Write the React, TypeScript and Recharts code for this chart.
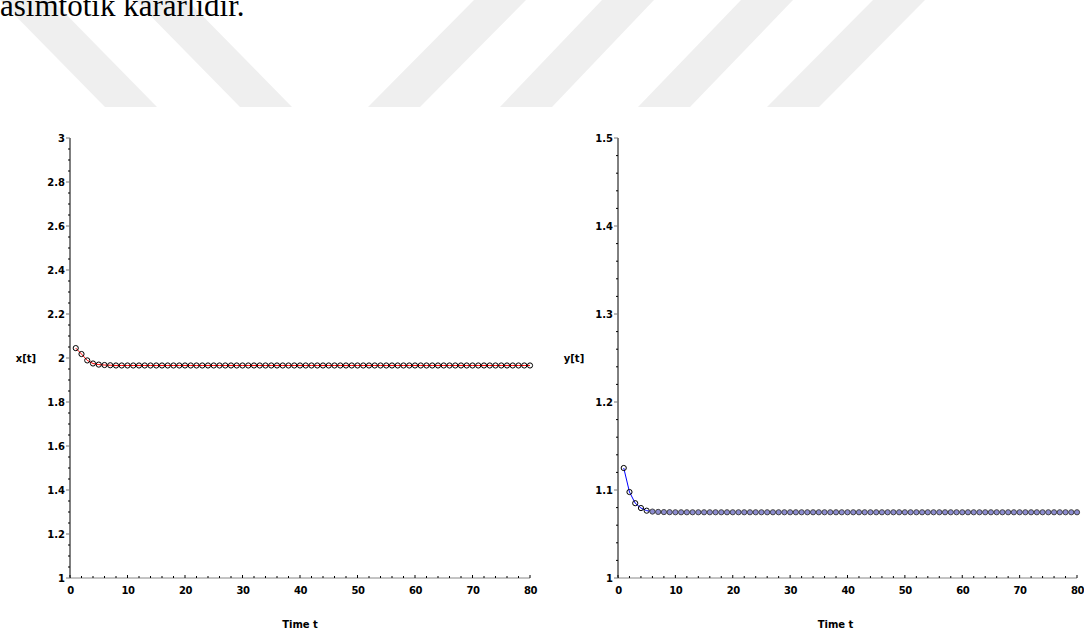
import React from 'react';
import { LineChart, Line, XAxis, YAxis, Label } from 'recharts';

// ---- data ----
const timeSteps = [
  1, 2, 3, 4, 5, 6, 7, 8, 9, 10,
  11, 12, 13, 14, 15, 16, 17, 18, 19, 20,
  21, 22, 23, 24, 25, 26, 27, 28, 29, 30,
  31, 32, 33, 34, 35, 36, 37, 38, 39, 40,
  41, 42, 43, 44, 45, 46, 47, 48, 49, 50,
  51, 52, 53, 54, 55, 56, 57, 58, 59, 60,
  61, 62, 63, 64, 65, 66, 67, 68, 69, 70,
  71, 72, 73, 74, 75, 76, 77, 78, 79, 80,
];

const xValues = [
  2.045, 2.018, 1.989, 1.975, 1.970, 1.968, 1.967, 1.966, 1.966, 1.966,
  1.966, 1.966, 1.966, 1.966, 1.966, 1.966, 1.966, 1.966, 1.966, 1.966,
  1.966, 1.966, 1.966, 1.966, 1.966, 1.966, 1.966, 1.966, 1.966, 1.966,
  1.966, 1.966, 1.966, 1.966, 1.966, 1.966, 1.966, 1.966, 1.966, 1.966,
  1.966, 1.966, 1.966, 1.966, 1.966, 1.966, 1.966, 1.966, 1.966, 1.966,
  1.966, 1.966, 1.966, 1.966, 1.966, 1.966, 1.966, 1.966, 1.966, 1.966,
  1.966, 1.966, 1.966, 1.966, 1.966, 1.966, 1.966, 1.966, 1.966, 1.966,
  1.966, 1.966, 1.966, 1.966, 1.966, 1.966, 1.966, 1.966, 1.966, 1.966,
];

const yValues = [
  1.125, 1.0977, 1.085, 1.0795, 1.0765, 1.0755, 1.0751, 1.0749, 1.0748, 1.0747,
  1.0747, 1.0747, 1.0747, 1.0747, 1.0747, 1.0747, 1.0747, 1.0747, 1.0747, 1.0747,
  1.0747, 1.0747, 1.0747, 1.0747, 1.0747, 1.0747, 1.0747, 1.0747, 1.0747, 1.0747,
  1.0747, 1.0747, 1.0747, 1.0747, 1.0747, 1.0747, 1.0747, 1.0747, 1.0747, 1.0747,
  1.0747, 1.0747, 1.0747, 1.0747, 1.0747, 1.0747, 1.0747, 1.0747, 1.0747, 1.0747,
  1.0747, 1.0747, 1.0747, 1.0747, 1.0747, 1.0747, 1.0747, 1.0747, 1.0747, 1.0747,
  1.0747, 1.0747, 1.0747, 1.0747, 1.0747, 1.0747, 1.0747, 1.0747, 1.0747, 1.0747,
  1.0747, 1.0747, 1.0747, 1.0747, 1.0747, 1.0747, 1.0747, 1.0747, 1.0747, 1.0747,
];

const timeTicksMajor = [0, 10, 20, 30, 40, 50, 60, 70, 80];
const xAxisTicksMajor = [1, 1.2, 1.4, 1.6, 1.8, 2, 2.2, 2.4, 2.6, 2.8, 3];
const yAxisTicksMajor = [1, 1.1, 1.2, 1.3, 1.4, 1.5];

const headerText = 'asimtotik kararlıdır.';
const leftYLabel = 'x[t]';
const rightYLabel = 'y[t]';
const timeLabel = 'Time t';

// ---- helpers ----
const steps = (start: number, end: number, step: number) => {
  const out: number[] = [];
  const n = Math.round((end - start) / step);
  for (let i = 0; i <= n; i++) out.push(Math.round((start + i * step) * 1e6) / 1e6);
  return out;
};

const timeTicksAll = steps(0, 80, 2);
const xAxisTicksAll = steps(1, 3, 0.05);
const yAxisTicksAll = steps(1, 1.5, 0.02);

const leftData = timeSteps.map((t, i) => ({ t, v: xValues[i] }));
const rightData = timeSteps.map((t, i) => ({ t, v: yValues[i] }));

const isIn = (arr: number[], v: number) => arr.some((m) => Math.abs(m - v) < 1e-7);

const FONT = 'DejaVu Sans';

const makeYTick = (majors: number[]) => (props: any) => {
  const { x, y, payload } = props;
  const v = payload.value;
  const major = isIn(majors, v);
  return (
    <g>
      <line x1={x - (major ? 4 : 2)} x2={x} y1={y} y2={y} stroke={major ? '#777' : '#000'} strokeWidth={1} />
      {major && (
        <text x={x - 5} y={y} dy={3.6} textAnchor="end" fontFamily={FONT} fontWeight="bold" fontSize={10} fill="#000">
          {String(v)}
        </text>
      )}
    </g>
  );
};

const makeXTick = (majors: number[]) => (props: any) => {
  const { x, y, payload } = props;
  const v = payload.value;
  const major = isIn(majors, v);
  return (
    <g>
      <line x1={x} x2={x} y1={y - (major ? 3 : 2)} y2={y} stroke="#000" strokeWidth={1} />
      {major && (
        <text x={x + 0.5} y={y + 16} textAnchor="middle" fontFamily={FONT} fontWeight="bold" fontSize={10} letterSpacing={-0.4} fill="#000">
          {String(v)}
        </text>
      )}
    </g>
  );
};

const makeDot = (filledFrom: number, fill: string, stroke: string) => (props: any) => {
  const { cx, cy, index } = props;
  const filled = index >= filledFrom;
  return (
    <circle
      key={`d-${index}`}
      cx={cx}
      cy={cy}
      r={2.6}
      fill={filled ? fill : 'none'}
      stroke={filled ? stroke : '#000'}
      strokeWidth={1}
    />
  );
};

const yLabelContent = (text: string) => (props: any) => {
  const vb = props.viewBox || {};
  return (
    <text x={vb.x + vb.width - 44} y={vb.y + vb.height / 2 + 4} textAnchor="middle" fontFamily={FONT} fontWeight="bold" fontSize={10} fill="#000">
      {text}
    </text>
  );
};

const xLabelContent = (text: string, shift: number) => (props: any) => {
  const vb = props.viewBox || {};
  return (
    <text x={vb.x + vb.width / 2 + shift} y={vb.y + 50} textAnchor="middle" fontFamily={FONT} fontWeight="bold" fontSize={10} fill="#000">
      {text}
    </text>
  );
};

const Watermark = () => (
  <svg width={1084} height={634} style={{ position: 'absolute', left: 0, top: 0 }}>
    <g fill="#efefef">
      <polygon points="0,0 52,0 157,107 105,107" />
      <polygon points="135,0 187,0 292,107 240,107" />
      <polygon points="474,0 526,0 420,107 368,107" />
      <polygon points="602,0 654,0 552,107 500,107" />
      <polygon points="741,0 793,0 690,107 638,107" />
      <polygon points="873,0 925,0 819,107 767,107" />
    </g>
    <text x={0} y={16} fontFamily="Liberation Serif" fontSize={31} fill="#000">
      {headerText}
    </text>
  </svg>
);

export default function App() {
  return (
    <div style={{ position: 'absolute', left: 0, top: 0, width: 1084, height: 634, background: '#fff', overflow: 'hidden' }}>
      <Watermark />
      <div style={{ position: 'absolute', left: 0, top: 0 }}>
        <LineChart width={560} height={634} data={leftData} margin={{ top: 138, right: 30, bottom: 55, left: 69 }}>
          <XAxis
            dataKey="t"
            type="number"
            domain={[0, 80]}
            ticks={timeTicksAll}
            interval={0}
            height={1}
            tickSize={0}
            tickMargin={0}
            tickLine={false}
            axisLine={{ stroke: '#888' }}
            tick={makeXTick(timeTicksMajor)}
          >
            <Label content={xLabelContent(timeLabel, 0)} />
          </XAxis>
          <YAxis
            type="number"
            domain={[1, 3]}
            ticks={xAxisTicksAll}
            interval={0}
            width={1}
            tickSize={0}
            tickMargin={0}
            tickLine={false}
            axisLine={{ stroke: '#000' }}
            tick={makeYTick(xAxisTicksMajor)}
          >
            <Label content={yLabelContent(leftYLabel)} />
          </YAxis>
          <Line
            type="linear"
            dataKey="v"
            stroke="#ff0000"
            strokeWidth={1}
            dot={makeDot(1000, 'none', '#000')}
            isAnimationActive={false}
          />
        </LineChart>
      </div>
      <div style={{ position: 'absolute', left: 548, top: 0 }}>
        <LineChart width={536} height={634} data={rightData} margin={{ top: 138, right: 7, bottom: 55, left: 69 }}>
          <XAxis
            dataKey="t"
            type="number"
            domain={[0, 80]}
            ticks={timeTicksAll}
            interval={0}
            height={1}
            tickSize={0}
            tickMargin={0}
            tickLine={false}
            axisLine={{ stroke: '#888' }}
            tick={makeXTick(timeTicksMajor)}
          >
            <Label content={xLabelContent(timeLabel, -12)} />
          </XAxis>
          <YAxis
            type="number"
            domain={[1, 1.5]}
            ticks={yAxisTicksAll}
            interval={0}
            width={1}
            tickSize={0}
            tickMargin={0}
            tickLine={false}
            axisLine={{ stroke: '#000' }}
            tick={makeYTick(yAxisTicksMajor)}
          >
            <Label content={yLabelContent(rightYLabel)} />
          </YAxis>
          <Line
            type="linear"
            dataKey="v"
            stroke="#0000ff"
            strokeWidth={1}
            dot={makeDot(5, '#8c8cd0', '#444')}
            isAnimationActive={false}
          />
        </LineChart>
      </div>
    </div>
  );
}
